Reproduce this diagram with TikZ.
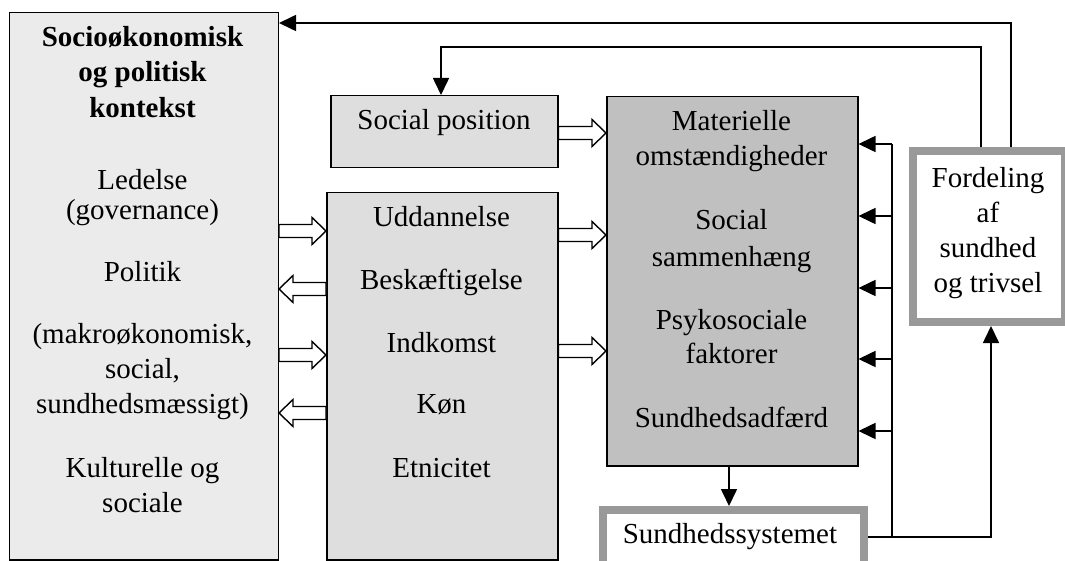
\documentclass[tikz,border=0pt]{standalone}
\usepackage{fontspec}
\setmainfont{Liberation Serif}
\usetikzlibrary{arrows.meta,calc}
\definecolor{ctxfill}{HTML}{EBEBEB}
\definecolor{midfill}{HTML}{DEDEDE}
\definecolor{mainfill}{HTML}{C0C0C0}
\definecolor{frame}{HTML}{999999}
% horizontal hollow block arrow from #1 to #2
\newcommand{\fatarrow}[2]{%
  \draw[hollow] let \p1=(#1), \p2=(#2), \n1={sign(\x2-\x1)} in
    (\x1,\y1+6.5pt) -- (\x2-\n1*14pt,\y1+6.5pt) -- (\x2-\n1*14pt,\y1+13.5pt)
    -- (\x2,\y1) -- (\x2-\n1*14pt,\y1-13.5pt) -- (\x2-\n1*14pt,\y1-6.5pt)
    -- (\x1,\y1-6.5pt) -- cycle;}
\begin{document}
\begin{tikzpicture}[x=1pt,y=-1pt,
  box/.style={draw=black, line width=1.5pt, inner sep=0pt, anchor=north west},
  thickbox/.style={draw=frame, line width=8pt, fill=white, inner sep=0pt, anchor=north west},
  txt/.style={anchor=base, inner sep=0pt, font=\fontsize{29}{35}\selectfont},
  conn/.style={draw=black, line width=1.6pt},
  tip/.style={-{Triangle[length=17pt,width=16pt]}},
  hollow/.style={draw=black, line width=1.4pt, fill=white, line join=miter}]
\useasboundingbox (0,0) rectangle (1065,561);
\clip (0,0) rectangle (1065,561);

% boxes
\node[box, fill=ctxfill, minimum width=269pt, minimum height=547pt] (L) at (8.5,12) {};
\node[box, fill=midfill, minimum width=227pt, minimum height=72pt] (SP) at (330,95) {};
\node[box, fill=midfill, minimum width=231pt, minimum height=367pt] (M) at (326,192) {};
\node[box, fill=mainfill, minimum width=251pt, minimum height=369pt] (B) at (606,96) {};
\node[thickbox, minimum width=152pt, minimum height=171pt] (F) at (909,147) {};
\node[thickbox, minimum width=261pt, minimum height=55pt] (S) at (599,506) {};

% texts: context box
\node[txt, font=\fontsize{29}{35}\selectfont\bfseries] (t1) at (142.5,47) {Socioøkonomisk};
\node[txt, font=\fontsize{29}{35}\selectfont\bfseries] (t2) at (142.5,82) {og politisk};
\node[txt, font=\fontsize{29}{35}\selectfont\bfseries] (t3) at (142.5,118) {kontekst};
\node[txt] (t4) at (142.5,190) {Ledelse};
\node[txt] (t5) at (142.5,220) {(governance)};
\node[txt] (t6) at (142.5,282) {Politik};
\node[txt] (t7) at (142.5,343) {(makroøkonomisk,};
\node[txt] (t8) at (142.5,378) {social,};
\node[txt] (t9) at (142.5,413) {sundhedsmæssigt)};
\node[txt] (t10) at (142.5,477) {Kulturelle og};
\node[txt] (t11) at (142.5,512) {sociale};

% texts: structural determinants
\node[txt] (sp) at (444,130) {Social position};
\node[txt] (m1) at (441.5,227) {Uddannelse};
\node[txt] (m2) at (441.5,290) {Beskæftigelse};
\node[txt] (m3) at (441.5,352) {Indkomst};
\node[txt] (m4) at (441.5,413) {Køn};
\node[txt] (m5) at (441.5,477) {Etnicitet};

% texts: intermediary determinants
\node[txt] (b1) at (731.5,131) {Materielle};
\node[txt] (b2) at (731.5,166) {omstændigheder};
\node[txt] (b3) at (731.5,230) {Social};
\node[txt] (b4) at (731.5,266) {sammenhæng};
\node[txt] (b5) at (731.5,329) {Psykosociale};
\node[txt] (b6) at (731.5,363) {faktorer};
\node[txt] (b7) at (731.5,427) {Sundhedsadfærd};

% texts: outcome and health system
\node[txt] (f1) at (988,188) {Fordeling};
\node[txt] (f2) at (988,223) {af};
\node[txt] (f3) at (988,258) {sundhed};
\node[txt] (f4) at (988,293) {og trivsel};
\node[txt] (s1) at (730,543) {Sundhedssystemet};

% hollow block arrows
\fatarrow{L.east |- 0,231}{M.west |- 0,231}
\fatarrow{M.west |- 0,289}{L.east |- 0,289}
\fatarrow{L.east |- 0,355}{M.west |- 0,355}
\fatarrow{M.west |- 0,413}{L.east |- 0,413}
\fatarrow{SP.east |- 0,133}{B.west |- 0,133}
\fatarrow{M.east |- 0,235}{B.west |- 0,235}
\fatarrow{M.east |- 0,351}{B.west |- 0,351}

% feedback lines from the outcome box
\draw[conn, tip] (F.north -| 1011,0) -- (1011,23) -- (L.east |- 0,23);
\draw[conn, tip] (F.north -| 981,0) -- (981,47) -- (441,47) -- (SP.north -| 441,0);

% health system links
\coordinate (bustop) at (892,144);
\coordinate (busbot) at (892,537);
\draw[conn] (bustop) -- (busbot);
\foreach \yy in {144,216,288,359,431}
  \draw[conn, tip] (892,\yy) -- (B.east |- 0,\yy);
\draw[conn, tip] (S.east |- busbot) -- (991,537) -- (F.south -| 991,0);
\draw[conn, tip] (729,0 |- B.south) -- (729,0 |- S.north);
\end{tikzpicture}
\end{document}
